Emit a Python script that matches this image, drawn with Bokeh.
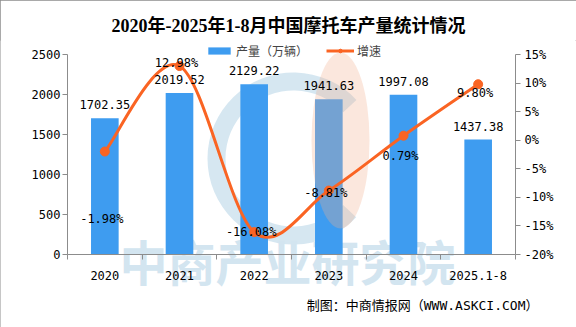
from bokeh.plotting import figure
from bokeh.models import (Range1d, LinearAxis, FixedTicker, PrintfTickFormatter, Label,
                          Legend, LegendItem, ColumnDataSource, Title)
from bokeh.core.properties import value
from bokeh.embed import file_html
from bokeh.resources import INLINE

# ---- data ----
categories = ["2020", "2021", "2022", "2023", "2024", "2025.1-8"]
output = [1702.35, 2019.52, 2129.22, 1941.63, 1997.08, 1437.38]   # 万辆
growth = [-1.98, 12.98, -16.08, -8.81, 0.79, 9.80]                 # %
left_ticks = [0, 500, 1000, 1500, 2000, 2500]
right_ticks = [-20, -15, -10, -5, 0, 5, 10, 15]
title_text = "2020年-2025年1-8月中国摩托车产量统计情况"
footer_text = "制图：中商情报网（WWW.ASKCI.COM）"
watermark_text = "中商产业研究院"

# ---- style ----
W, H = 576, 327
FT = 40                                 # frame top (title panel above)
AX_L, AX_R, AX_TOP, AX_BOT = 67, 515, 54, 254   # axis pixel positions
BAR = "#3E9CF0"
LINE = "#FA6423"
AXIS = "#8C8C8C"
MONO = "DejaVu Sans Mono, Noto Sans CJK SC"
CJK = "Noto Sans CJK SC, DejaVu Sans Mono"
pct_label_dy = [67, -3, 0, 2, 20, 9]   # pixel offsets of growth labels

n = len(categories)
xs = [i + 0.5 for i in range(n)]
xpx = (AX_R - AX_L) / n
lpx = (AX_BOT - AX_TOP) / (left_ticks[-1] - left_ticks[0])
rpx = (AX_BOT - AX_TOP) / (right_ticks[-1] - right_ticks[0])
x_range = Range1d(-AX_L / xpx, n + (W - AX_R) / xpx)
l_range = Range1d(left_ticks[0] - (H - AX_BOT) / lpx, left_ticks[-1] + (AX_TOP - FT) / lpx)
r_range = Range1d(right_ticks[0] - (H - AX_BOT) / rpx, right_ticks[-1] + (AX_TOP - FT) / rpx)

p = figure(width=W, height=H, output_backend="svg", toolbar_location=None,
           x_range=x_range, y_range=l_range,
           min_border_left=0, min_border_right=0,
           min_border_top=FT, min_border_bottom=0,
           styles={"outline": "1px solid #8C8C8C", "outline-offset": "-1px"})
p.extra_y_ranges = {"pct": r_range}
p.xgrid.visible = False
p.ygrid.visible = False
p.outline_line_color = None
p.background_fill_color = "white"
p.border_fill_color = "white"

def sx(cx):          # canvas px -> frame screen x
    return cx

def sy(cy):          # canvas px -> frame screen y (from bottom)
    return H - cy

def dx(cx):
    return (cx - AX_L) / xpx

def dy(cy):
    return (AX_BOT - cy) / lpx

# title
p.title = Title(text=title_text, align="center", text_font="Liberation Serif, Noto Sans CJK SC",
                text_font_size="18px", text_font_style="bold", text_color="#000000",
                standoff=10)

def style_axis(ax):
    ax.major_tick_in = 0
    ax.minor_tick_in = 0
    ax.axis_line_color = AXIS
    ax.major_tick_line_color = AXIS
    ax.minor_tick_line_color = AXIS
    ax.major_label_text_font = MONO
    ax.major_label_text_font_size = "12px"
    ax.major_label_text_color = "#000000"

# x axis (drawn at value 0 of the left axis)
xa = p.xaxis[0]
style_axis(xa)
xa.fixed_location = left_ticks[0]
xa.bounds = (0, n)
xa.ticker = FixedTicker(ticks=xs, minor_ticks=list(range(n + 1)))
xa.major_label_overrides = {x: c for x, c in zip(xs, categories)}
xa.major_tick_out = 0
xa.minor_tick_out = 5
xa.major_label_standoff = 11

# left axis
ya = p.yaxis[0]
style_axis(ya)
ya.fixed_location = 0
ya.ticker = FixedTicker(ticks=left_ticks)
ya.bounds = (left_ticks[0], left_ticks[-1])
ya.major_tick_out = 5
ya.minor_tick_out = 0
ya.major_label_standoff = 2

# right axis
ra = LinearAxis(y_range_name="pct", ticker=FixedTicker(ticks=right_ticks),
                formatter=PrintfTickFormatter(format="%d%%"),
                bounds=(right_ticks[0], right_ticks[-1]), fixed_location=n)
style_axis(ra)
ra.major_tick_out = 5
ra.minor_tick_out = 0
ra.major_label_standoff = 4
p.add_layout(ra, "right")

# ---- watermark (behind bars) ----
wm = p.annular_wedge(x=[dx(293)], y=[dy(158)],
                     inner_radius=68, outer_radius=86, inner_radius_units="screen",
                     outer_radius_units="screen", start_angle=0.75, end_angle=5.53,
                     fill_color="#D2E4EF", line_color=None, fill_alpha=0.9)
wm.level = "underlay"
p.add_layout(Label(x=sx(287), y=sy(259), x_units="screen", y_units="screen",
                   text=watermark_text, text_align="center", text_baseline="middle",
                   text_font=CJK, text_font_size="48px", text_font_style="bold",
                   text_color="#D3E5F0", level="underlay"))

# ---- bars ----
bars = p.vbar(x=xs, top=output, bottom=left_ticks[0], width=0.37,
              fill_color=BAR, line_color=None)

# peach watermark shape (over bars)
p.ellipse(x=[dx(340)], y=[dy(140)], width=58, height=176,
          width_units="screen", height_units="screen",
          fill_color="#F2B090", fill_alpha=0.3, line_color=None)

# ---- smooth growth line ----
P = list(zip(xs, growth))
bz = dict(x0=[], y0=[], x1=[], y1=[], cx0=[], cy0=[], cx1=[], cy1=[])
for i in range(n - 1):
    p0 = P[i - 1] if i > 0 else P[i]
    p1 = P[i]
    p2 = P[i + 1]
    p3 = P[i + 2] if i + 2 < n else P[i + 1]
    bz["x0"].append(p1[0]); bz["y0"].append(p1[1])
    bz["x1"].append(p2[0]); bz["y1"].append(p2[1])
    bz["cx0"].append(p1[0] + (p2[0] - p0[0]) / 6)
    bz["cy0"].append(p1[1] + (p2[1] - p0[1]) / 6)
    bz["cx1"].append(p2[0] - (p3[0] - p1[0]) / 6)
    bz["cy1"].append(p2[1] - (p3[1] - p1[1]) / 6)
bez = p.bezier(source=ColumnDataSource(bz), x0="x0", y0="y0", x1="x1", y1="y1",
               cx0="cx0", cy0="cy0", cx1="cx1", cy1="cy1",
               line_color=LINE, line_width=3, y_range_name="pct")
pts = p.scatter(x=xs, y=growth, size=9, marker="circle", fill_color=LINE,
                line_color=LINE, y_range_name="pct")

# ---- data labels ----
p.text(x=xs, y=output, text=[f"{v:.2f}" for v in output], text_align="center",
       text_baseline="bottom", y_offset=-9, text_font=value(MONO),
       text_font_size="12px", text_color="#000000")
lab_src = ColumnDataSource(dict(x=xs, y=growth, t=[f"{g:.2f}%" for g in growth],
                                dy=pct_label_dy))
p.text(source=lab_src, x="x", y="y", text="t", y_offset="dy", x_offset=-3,
       text_align="center", text_baseline="middle", y_range_name="pct",
       text_font=value(MONO), text_font_size="12px", text_color="#000000")

# ---- legend ----
legend = Legend(items=[LegendItem(label="产量（万辆）", renderers=[bars]),
                       LegendItem(label="增速", renderers=[bez, pts])],
                orientation="horizontal", location=(205, H - 59),
                glyph_width=28, glyph_height=9, label_standoff=3, spacing=18,
                padding=0, margin=0, border_line_color=None,
                background_fill_alpha=0, label_text_font=CJK,
                label_text_font_size="12px", label_height=12)
p.add_layout(legend)

# ---- footer ----
p.add_layout(Label(x=sx(538), y=sy(305), x_units="screen", y_units="screen",
                   text=footer_text, text_align="right", text_baseline="middle",
                   text_font=MONO, text_font_size="13px", text_color="#000000"))

open("out.html", "w").write(file_html(p, INLINE))
